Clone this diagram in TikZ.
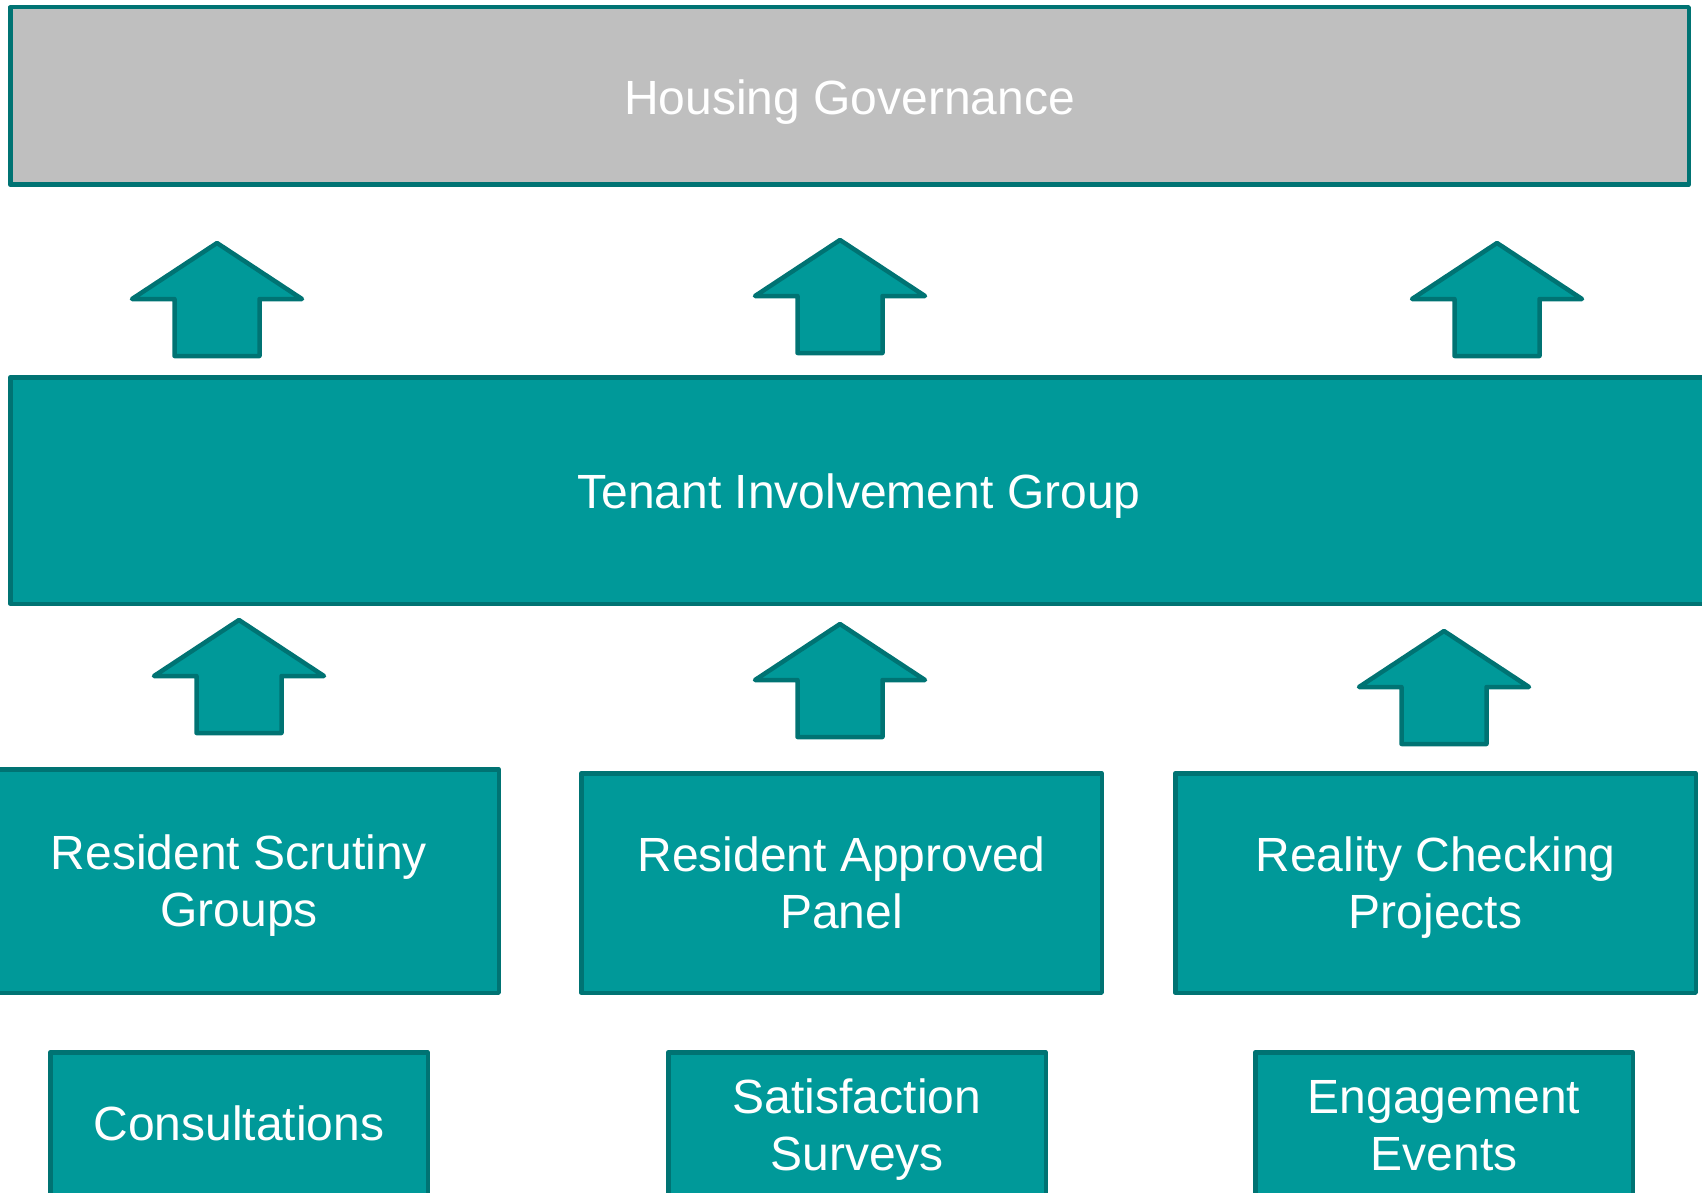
\documentclass[tikz,border=0pt]{standalone}
\usepackage{fontspec}
\setmainfont{Liberation Sans}
\definecolor{tealfill}{HTML}{009999}
\definecolor{tealedge}{HTML}{007373}
\definecolor{govgray}{HTML}{BFBFBF}
\begin{document}
\begin{tikzpicture}[x=1pt,y=-1pt,
  box/.style={draw=tealedge, fill=tealfill, line width=4.5pt, line join=round,
    rectangle, inner sep=0pt, text=white, align=center,
    font=\fontsize{48}{57.5}\selectfont},
  % fixed text metrics keep the baselines where they belong
  oneline/.style={text height=34pt, text depth=0pt},
  twoline/.style={text height=91.5pt, text depth=0pt},
  govbox/.style={box, fill=govgray},
  liftarrow/.pic={
    \draw[draw=tealedge, fill=tealfill, line width=4.5pt, line join=round]
      (0,0) -- (85,56) -- (42.5,56) -- (42.5,113) -- (-42.5,113)
      -- (-42.5,56) -- (-85,56) -- cycle;
  }]
\useasboundingbox (0,0) rectangle (1702,1193);
\clip (0,0) rectangle (1702,1193);

% top level
\node[govbox, oneline, text height=38pt, minimum width=1678.5pt, minimum height=177.5pt] (gov) at (849.5,96) {Housing Governance};

% arrows into governance
\pic at (217,243) {liftarrow};
\pic at (840,240) {liftarrow};
\pic at (1497,243) {liftarrow};

% tenant group
\node[box, oneline, text height=35pt, minimum width=1697.5pt, minimum height=226.5pt] (tig) at (859,490.5) {Tenant Involvement Group};

% arrows into tenant group
\pic at (239,620) {liftarrow};
\pic at (840,624) {liftarrow};
\pic at (1444,631) {liftarrow};

% resident bodies
\node[box, twoline, minimum width=519.5pt, minimum height=223.5pt] (rsg) at (239,881) {Resident Scrutiny\\Groups};
\node[box, twoline, minimum width=520.5pt, minimum height=219.5pt] (rap) at (841.5,883) {Resident Approved\\Panel};
\node[box, twoline, minimum width=520.5pt, minimum height=219.5pt] (rcp) at (1435.5,883) {Reality Checking\\Projects};

% activities
\node[box, oneline, text height=31pt, minimum width=377.5pt, minimum height=145.5pt] (con) at (239,1125) {Consultations};
\node[box, twoline, minimum width=377.5pt, minimum height=145.5pt] (sat) at (857,1125) {Satisfaction\\Surveys};
\node[box, twoline, minimum width=377.5pt, minimum height=145.5pt] (eng) at (1444,1125) {Engagement\\Events};
\end{tikzpicture}
\end{document}
